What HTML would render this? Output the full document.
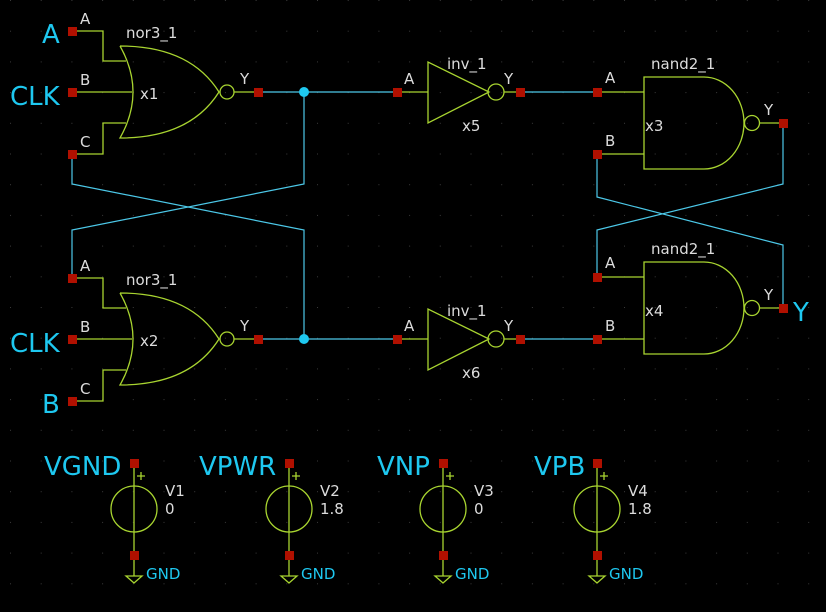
<!DOCTYPE html>
<html><head><style>
html,body{margin:0;padding:0;background:#000;}
svg{display:block;}
text{font-family:"DejaVu Sans","Liberation Sans",sans-serif;}
.g{fill:none;stroke:#a8d430;stroke-width:1.3}
.w{fill:none;stroke:#4cc8e8;stroke-width:1.2}
.t{fill:#dcdcdc;font-size:15px}
.b{fill:#1ec8f0;font-size:26px}
.s{fill:#1ec8f0;font-size:15px}
.p{fill:#b01000}
</style></head><body>
<svg width="826" height="612" viewBox="0 0 826 612" xmlns="http://www.w3.org/2000/svg">
<defs>
<pattern id="dots" width="30.7" height="30.7" patternUnits="userSpaceOnUse" x="10" y="0">
<rect x="0" y="0" width="1" height="1" fill="#3a3a3a"/>
</pattern>
<g id="nor">
<path class="g" d="M120,46 Q190,46 219,92 Q190,138 120,138 Q146,92 120,46"/>
<path class="g" d="M72,31 H103 V61 H126 M72,92 H132 M72,154 H103 V123 H126 M234,92 H258"/>
<circle class="g" cx="227" cy="92" r="7"/>
<rect class="p" x="68" y="27" width="9" height="9"/>
<rect class="p" x="68" y="88" width="9" height="9"/>
<rect class="p" x="68" y="150" width="9" height="9"/>
<rect class="p" x="254" y="88" width="9" height="9"/>
<text class="t" x="80" y="24">A</text><text class="t" x="80" y="85">B</text><text class="t" x="80" y="147">C</text>
<text class="t" x="126" y="38">nor3_1</text><text class="t" x="240" y="84">Y</text>
</g>
<g id="inv">
<path class="g" d="M428,62 L428,123 L489,92 Z M397,92 H428 M504,92 H520"/>
<circle class="g" cx="496" cy="92" r="8"/>
<rect class="p" x="393" y="88" width="9" height="9"/>
<rect class="p" x="516" y="88" width="9" height="9"/>
<text class="t" x="404" y="84">A</text><text class="t" x="447" y="69">inv_1</text><text class="t" x="504" y="84">Y</text>
</g>
<g id="src">
<path class="g" d="M0,0 V92"/>
<circle class="g" cx="0" cy="46" r="23"/>
<path class="g" d="M3,13 H11 M7,9 V17"/>
<path class="g" d="M0,92 V113 M-8,113 H8 L0,120 Z"/>
<rect class="p" x="-4" y="-4" width="9" height="9"/>
<rect class="p" x="-4" y="88" width="9" height="9"/>
<text class="s" x="12" y="116">GND</text>
</g>
</defs>
<rect width="826" height="612" fill="url(#dots)"/>
<path class="w" d="M262,92 H397 M304,92 V184 L72,230 V277 M72,154 V184 L304,230 V339 M262,339 H397 M524,92 H597 M524,339 H597
M597,154 V197 L783,245 V308 M783,123 V184 L597,230 V277"/>
<circle cx="304" cy="92" r="5" fill="#1ec8f0"/>
<circle cx="304" cy="339" r="5" fill="#1ec8f0"/>
<use href="#nor"/>
<text class="t" x="140" y="99">x1</text>
<use href="#nor" y="247"/>
<text class="t" x="140" y="346">x2</text>
<use href="#inv"/>
<text class="t" x="462" y="131">x5</text>
<use href="#inv" y="247"/>
<text class="t" x="462" y="378">x6</text>
<g id="nand">
<path class="g" d="M704,77 H644 V169 H704 A40,46 0 0 0 704,77 M597,92 H644 M597,154 H644 M760,123 H783"/>
<circle class="g" cx="752" cy="123" r="7.5"/>
<rect class="p" x="593" y="88" width="9" height="9"/>
<rect class="p" x="593" y="150" width="9" height="9"/>
<rect class="p" x="779" y="119" width="9" height="9"/>
<text class="t" x="605" y="83">A</text><text class="t" x="605" y="146">B</text>
<text class="t" x="651" y="69">nand2_1</text><text class="t" x="764" y="115">Y</text>
</g>
<text class="t" x="645" y="131">x3</text>
<use href="#nand" y="185"/>
<text class="t" x="645" y="316">x4</text>
<text class="b" x="42" y="43">A</text>
<text class="b" x="10" y="105">CLK</text>
<text class="b" x="10" y="352">CLK</text>
<text class="b" x="42" y="413">B</text>
<text class="b" x="793" y="321">Y</text>
<use href="#src" x="134" y="463"/>
<use href="#src" x="289" y="463"/>
<use href="#src" x="443" y="463"/>
<use href="#src" x="597" y="463"/>
<text class="b" x="44" y="475">VGND</text>
<text class="b" x="199" y="475">VPWR</text>
<text class="b" x="377" y="475">VNP</text>
<text class="b" x="534" y="475">VPB</text>
<text class="t" x="165" y="496">V1</text><text class="t" x="165" y="514">0</text>
<text class="t" x="320" y="496">V2</text><text class="t" x="320" y="514">1.8</text>
<text class="t" x="474" y="496">V3</text><text class="t" x="474" y="514">0</text>
<text class="t" x="628" y="496">V4</text><text class="t" x="628" y="514">1.8</text>
</svg>
</body></html>
